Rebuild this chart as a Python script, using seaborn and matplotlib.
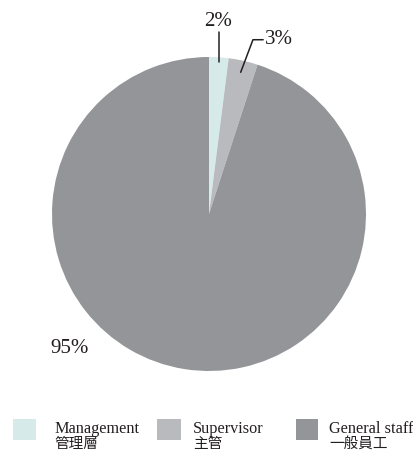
import numpy as np
import matplotlib
matplotlib.use("Agg")
import matplotlib.pyplot as plt
from matplotlib.patches import Rectangle
import seaborn as sns

# Staff composition shares (%)
categories_en = ["Management", "Supervisor", "General staff"]
categories_zh = ["管理層", "主管", "一般員工"]
shares = [2, 3, 95]
slice_colors = ["#d6eaea", "#b9babd", "#939598"]

sns.set_theme(style="white")
plt.rcParams["font.family"] = ["Liberation Serif", "Noto Sans CJK TC", "DejaVu Sans"]

W, H = 413, 452
fig = plt.figure(figsize=(W / 100, H / 100), dpi=100)
fig.patch.set_facecolor("white")

# pie centre and radius in pixels
cx, cy, r = 209, 215, 157
ax = fig.add_axes([(cx - r) / W, (H - cy - r) / H, 2 * r / W, 2 * r / H])

wedges, _ = ax.pie(shares, colors=slice_colors, startangle=90, counterclock=False,
                   radius=1, wedgeprops=dict(linewidth=0))
ax.set_xlim(-1, 1)
ax.set_ylim(-1, 1)
ax.set_aspect("equal")
ax.axis("off")

def mid_point(i, frac):
    w = wedges[i]
    ang = np.deg2rad((w.theta1 + w.theta2) / 2)
    return frac * np.cos(ang), frac * np.sin(ang)

label_kw = dict(fontsize=15, color="#231f20", family=["Liberation Serif", "DejaVu Sans"])

# 2% : straight leader up from the slice
x0, y0 = mid_point(0, 0.97)
ax.plot([x0, x0], [y0, 1.16], color="#231f20", lw=1.1, clip_on=False)
ax.text(x0, 1.235, f"{shares[0]}%", ha="center", va="center", **label_kw)

# 3% : angled leader with a short horizontal tail
x1, y1 = mid_point(1, 0.925)
ex, ey = 0.28, 1.11
ax.plot([x1, ex, ex + 0.065], [y1, ey, ey], color="#231f20", lw=1.1, clip_on=False)
ax.text(ex + 0.075, ey + 0.01, f"{shares[1]}%", ha="left", va="center", **label_kw)

# 95% : outside lower-left
ax.text(-0.885, -0.85, f"{shares[2]}%", ha="center", va="center", **label_kw)

# legend row
sq_x = [13, 157, 296]
sq_w = [23, 24, 22]
txt_x = [54, 193, 329]
sq_top, sq_h = 420, 21
for i in range(3):
    fig.add_artist(Rectangle((sq_x[i] / W, (H - sq_top - sq_h) / H), sq_w[i] / W, sq_h / H,
                             transform=fig.transFigure, facecolor=slice_colors[i],
                             edgecolor="none"))
    fig.text(txt_x[i] / W, (H - 433) / H, categories_en[i], ha="left", va="baseline",
             fontsize=11.7, color="#231f20", family=["Liberation Serif", "DejaVu Sans"])
    fig.text(txt_x[i] / W, (H - 451) / H, categories_zh[i], ha="left", va="bottom",
             fontsize=10.5, color="#231f20", family=["Noto Sans CJK TC", "DejaVu Sans"])

fig.savefig("out.png", dpi=100)
